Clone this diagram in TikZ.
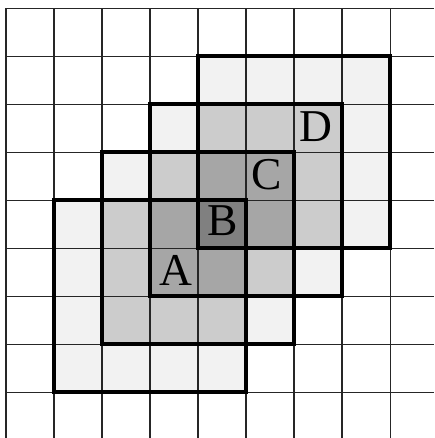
\documentclass[tikz,border=0pt]{standalone}
\usepackage{fontspec}
\setmainfont{Liberation Serif}
\usepackage{tikz}
\usetikzlibrary{positioning}

\colorlet{lvl1}{black!5}
\colorlet{lvl2}{black!20}
\colorlet{lvl3}{black!35}
\colorlet{lvl4}{black!50}

\begin{document}
\begin{tikzpicture}[gridline/.style={line width=0.6pt, black!85},
                    bigbox/.style={line width=2.4pt, line join=miter},
                    every node/.style={inner sep=0pt, font=\fontsize{27}{32}\selectfont}]
            \useasboundingbox (-0.125,0.167) rectangle (8.917,-8.958);
            % shade each cell by how many boxes cover it
            \foreach \i in {1,...,7} {
                \foreach \j in {1,...,7} {
                    \pgfmathtruncatemacro{\n}{max(0, min(4,\i,8-\j) - max(1,\i-3,5-\j) + 1)}
                    \ifnum\n>0
                        \fill[lvl\n] (\i,-\j) rectangle ++(1,-1);
                    \fi
                }
            }
            
            \draw[gridline] (0,-8.958) grid (8.917,0);
            
            \foreach \k in {1,...,4} {
                \pgfmathsetmacro{\top}{\k-5}
                \pgfmathsetmacro{\bot}{\k-9}
                \draw[bigbox] (\k,\top) rectangle (\k+4,\bot);
            }
            
            \node (a) at (3.55,-5.47) {A};
            \node (b) at (4.52,-4.44) {B};
            \node (c) at (5.44,-3.48) {C};
            \node (d) at (6.45,-2.48) {D};
        \end{tikzpicture}
\end{document}
